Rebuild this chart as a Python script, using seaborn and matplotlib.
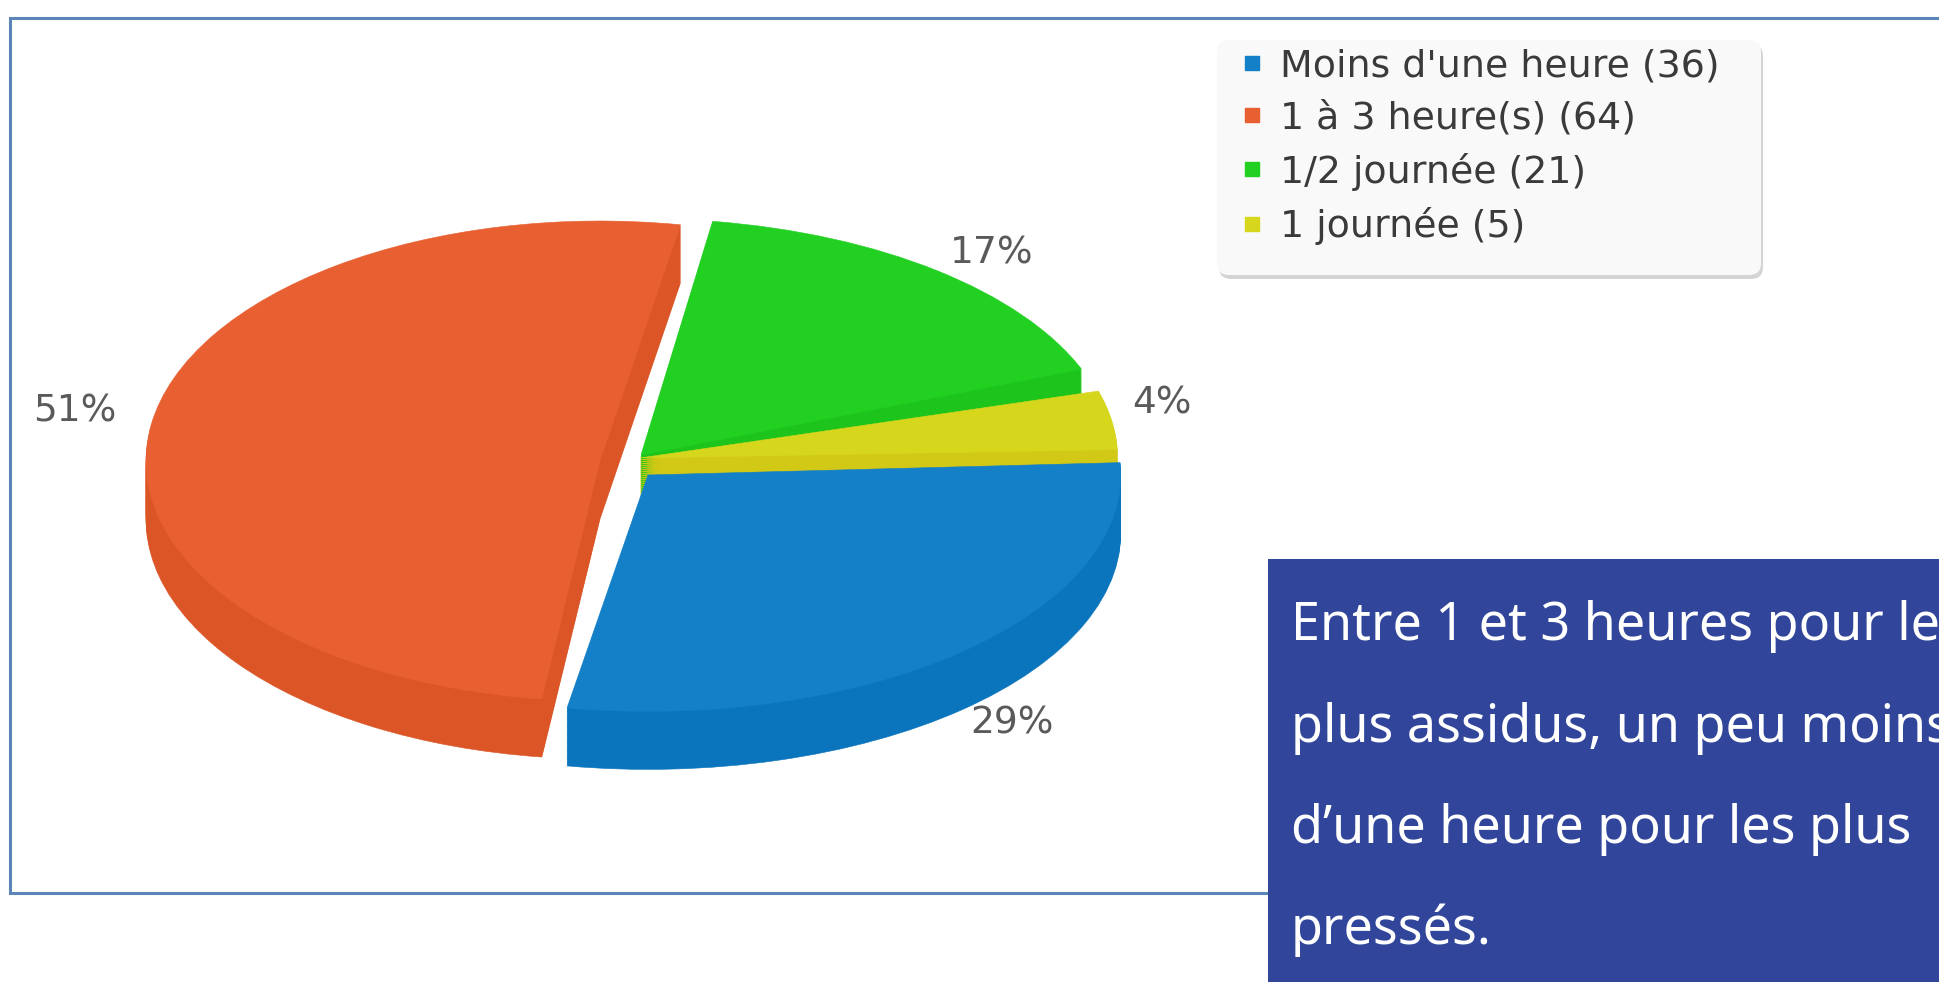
import matplotlib
matplotlib.use("Agg")
import matplotlib.pyplot as plt
from matplotlib.lines import Line2D
from matplotlib.patches import Rectangle, FancyBboxPatch
from matplotlib.transforms import Affine2D, IdentityTransform
import seaborn as sns

# ---- data ----
categories = ["Moins d'une heure", "1 à 3 heure(s)", "1/2 journée", "1 journée"]
counts = [36, 64, 21, 5]
panel_lines = ["Entre 1 et 3 heures pour les", "plus assidus, un peu moins",
               "d’une heure pour les plus", "pressés."]

# ---- style ----
W, H = 1939, 982
top_colors = sns.color_palette(["#1480C8", "#E85F31", "#22D022", "#D6D61C"])
side_colors = sns.color_palette(["#0A74BC", "#DC5526", "#1CC41C", "#D2C816"])
zorders = {2: 1, 1: 2, 3: 3, 0: 4}  # painter's order: green, orange, yellow, blue
CX, CY, RX, RY = 640, 460, 480, 240
START = 4
wedge_shift = {0: (8, 15), 1: (-40, 1), 2: (1, -5), 3: (0, -2)}
wedge_radius = {0: 0.985, 1: 1.0, 2: 0.985, 3: 0.995}
wedge_xscale = {0: 1.0, 1: 454 / 480, 2: 1.0, 3: 1.0}
wedge_turn = {0: -1, 1: 1.5, 2: 3, 3: -2}
DEPTH, STEP = 58, 2
label_pos = [(1012, 724), (75, 412), (992, 253), (1162, 404)]

sns.set_theme(style="white")
plt.rcParams["font.family"] = ["DejaVu Sans"]
fig = plt.figure(figsize=(W / 100, H / 100), dpi=100, facecolor="white")
ax = fig.add_axes([0, 0, 1, 1])


def fx(px):
    return px / W


def fy(py):
    return 1 - py / H


tf = fig.transFigure
ax.add_patch(Rectangle((fx(10), fy(893)), fx(2200), fy(18) - fy(893), transform=tf,
                       facecolor="white", edgecolor="#5C86B8", lw=2.2, clip_on=False, zorder=0))

# extruded pie: repeated darker layers, then the top face
for d in list(range(DEPTH, 0, -STEP)) + [0]:
    colors = top_colors if d == 0 else side_colors
    wedges, _ = ax.pie(counts, colors=colors, startangle=START, counterclock=False, radius=1)
    for i, w in enumerate(wedges):
        dx, dy = wedge_shift[i]
        sx = wedge_xscale[i]
        w.set_theta1(w.theta1 + wedge_turn[i])
        w.set_theta2(w.theta2 + wedge_turn[i])
        w.set_center((dx / RX / sx, (-d - dy) / RY))
        w.set_radius(wedge_radius[i])
        w.set_transform(Affine2D().scale(sx, 1) + ax.transData)
        w.set_edgecolor(w.get_facecolor())
        w.set_linewidth(0.4)
        w.set_zorder(zorders[i] + (DEPTH - d) / (DEPTH + 1) * 0.9)

ax.set_aspect("auto")
ax.set_xlim(-CX / RX, (W - CX) / RX)
ax.set_ylim((CY - H) / RY, CY / RY)
ax.set_axis_off()

total = sum(counts)
for v, (px, py) in zip(counts, label_pos):
    ax.text(fx(px), fy(py), f"{100 * v / total:.0f}%", transform=tf, ha="center", va="center",
            fontsize=27, color="#5A5A5A", zorder=6)

# legend box (pixels, y flipped) with soft shadow
box_x, box_y, box_w, box_h = 1217, 40, 544, 235
for off, col, zo in [(4, "#D4D4D4", 6.5), (0, "#F9F9F9", 6.6)]:
    ax.add_patch(FancyBboxPatch((box_x + 12 + off / 2, H - box_y - box_h + 12 - off), box_w - 24, box_h - 24,
                                boxstyle="round,pad=12,rounding_size=12", transform=IdentityTransform(),
                                facecolor=col, edgecolor="none", clip_on=False, zorder=zo))

handles = [Line2D([], [], ls="", marker="s", ms=10, color=c) for c in top_colors]
leg = ax.legend(handles, [f"{c} ({v})" for c, v in zip(categories, counts)],
                loc="upper left", bbox_to_anchor=(fx(1233), fy(48)), bbox_transform=tf,
                borderaxespad=0, fontsize=27.3, labelspacing=0.43, handlelength=1.0,
                handletextpad=0.25, borderpad=0, frameon=False)
leg.set_zorder(7)
for t in leg.get_texts():
    t.set_color("#3A3A3A")

ax.add_patch(Rectangle((fx(1268), 0), fx(800), fy(559), transform=tf, facecolor="#31459A",
                       edgecolor="none", clip_on=False, zorder=8))
for line, base in zip(panel_lines, [640, 742, 843, 944]):
    ax.text(fx(1291), fy(base), line, transform=tf, ha="left", va="baseline", color="white",
            fontsize=37.5, family="Noto Sans", zorder=9)

fig.savefig("out.png", dpi=100)
